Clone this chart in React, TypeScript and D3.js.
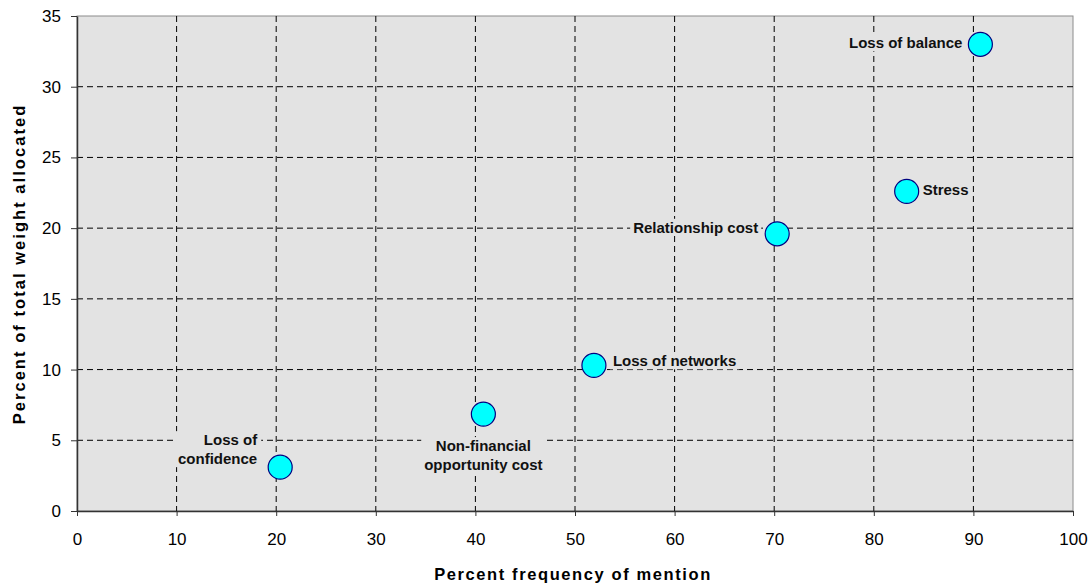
import { useEffect, useRef } from 'react';
import * as d3 from 'd3';

const labels = ['Loss of confidence', 'Non-financial opportunity cost', 'Loss of networks', 'Relationship cost', 'Stress', 'Loss of balance'];
const frequency = [20.4, 40.8, 51.9, 70.3, 83.3, 90.7];
const weight = [3.1, 6.85, 10.3, 19.6, 22.6, 33.0];
const xTicks = [0, 10, 20, 30, 40, 50, 60, 70, 80, 90, 100];
const yTicks = [0, 5, 10, 15, 20, 25, 30, 35];

// label placement per point: lines, anchor, dx, dy of first line
const labelLayout: { lines: string[]; anchor: string; dx: number; dy: number }[] = [
  { lines: ['Loss of', 'confidence'], anchor: 'end', dx: -23, dy: -22 },
  { lines: ['Non-financial', 'opportunity cost'], anchor: 'middle', dx: 0, dy: 37 },
  { lines: ['Loss of networks'], anchor: 'start', dx: 19, dy: 1 },
  { lines: ['Relationship cost'], anchor: 'end', dx: -19, dy: -1 },
  { lines: ['Stress'], anchor: 'start', dx: 16, dy: 4 },
  { lines: ['Loss of balance'], anchor: 'end', dx: -18, dy: 4 },
];

const W = 1089;
const H = 587;
const margin = { left: 77, right: 16, top: 16, bottom: 76 };

export default function App() {
  const svgRef = useRef<SVGSVGElement>(null);

  useEffect(() => {
    if (!svgRef.current) return;
    const svg = d3.select(svgRef.current);
    svg.selectAll('*').remove();

    const x = d3.scaleLinear().domain([0, 100]).range([margin.left, W - margin.right]);
    const y = d3.scaleLinear().domain([0, 35]).range([H - margin.bottom, margin.top]);
    const font = 'Arial, "Liberation Sans", sans-serif';

    // plot background
    svg.append('rect')
      .attr('x', x(0)).attr('y', y(35))
      .attr('width', x(100) - x(0)).attr('height', y(0) - y(35))
      .attr('fill', '#e3e3e3')
      .attr('stroke', '#8c8c8c')
      .attr('stroke-width', 1);

    // grid
    svg.append('g').selectAll('line')
      .data(xTicks.slice(1, -1))
      .enter().append('line')
      .attr('x1', d => x(d)).attr('x2', d => x(d))
      .attr('y1', y(35)).attr('y2', y(0))
      .attr('stroke', '#000').attr('stroke-width', 1).attr('stroke-dasharray', '6,4');
    svg.append('g').selectAll('line')
      .data(yTicks.slice(1, -1))
      .enter().append('line')
      .attr('x1', x(0)).attr('x2', x(100))
      .attr('y1', d => y(d)).attr('y2', d => y(d))
      .attr('stroke', '#000').attr('stroke-width', 1).attr('stroke-dasharray', '6,4');

    // axes
    const xAxis = svg.append('g')
      .attr('transform', `translate(0,${y(0)})`)
      .call(d3.axisBottom(x).tickValues(xTicks).tickSize(5).tickSizeOuter(0).tickPadding(17));
    const yAxis = svg.append('g')
      .attr('transform', `translate(${x(0)},0)`)
      .call(d3.axisLeft(y).tickValues(yTicks).tickSize(6).tickSizeOuter(0).tickPadding(10));
    [xAxis, yAxis].forEach(a => {
      a.select('.domain').attr('stroke', '#333').attr('stroke-width', 1.5);
      a.selectAll('.tick line').attr('stroke', '#333');
      a.selectAll('.tick text')
        .attr('font-family', font).attr('font-size', 17).attr('fill', '#000');
    });

    // axis titles
    svg.append('text')
      .attr('x', 573).attr('y', 580)
      .attr('text-anchor', 'middle')
      .attr('font-family', font).attr('font-size', 16.5).attr('font-weight', 'bold')
      .attr('letter-spacing', 1.6)
      .text('Percent frequency of mention');
    svg.append('text')
      .attr('transform', 'translate(25,264) rotate(-90)')
      .attr('text-anchor', 'middle')
      .attr('font-family', font).attr('font-size', 16.5).attr('font-weight', 'bold')
      .attr('letter-spacing', 2.05)
      .text('Percent of total weight allocated');

    // points
    const pts = svg.append('g').selectAll('g')
      .data(labels.map((l, i) => ({ label: l, fx: frequency[i], wy: weight[i], lay: labelLayout[i] })))
      .enter().append('g');

    pts.append('circle')
      .attr('cx', d => x(d.fx)).attr('cy', d => y(d.wy))
      .attr('r', 12)
      .attr('fill', '#00ffff')
      .attr('stroke', '#000080')
      .attr('stroke-width', 1.2);

    pts.each(function (d) {
      const g = d3.select(this);
      const bg = g.insert('rect', 'circle').attr('fill', '#e3e3e3');
      const t = g.append('text')
        .attr('font-family', font).attr('font-size', 15).attr('font-weight', 'bold')
        .attr('fill', '#111')
        .attr('text-anchor', d.lay.anchor);
      d.lay.lines.forEach((ln, j) => {
        t.append('tspan')
          .attr('x', x(d.fx) + d.lay.dx)
          .attr('y', y(d.wy) + d.lay.dy + j * 19)
          .text(ln);
      });
      const bb = (t.node() as SVGTextElement).getBBox();
      bg.attr('x', bb.x - 3).attr('y', bb.y).attr('width', bb.width + 6).attr('height', bb.height);
    });
  }, []);

  return <svg ref={svgRef} width={W} height={H} style={{ position: 'absolute', left: 0, top: 0 }} />;
}
